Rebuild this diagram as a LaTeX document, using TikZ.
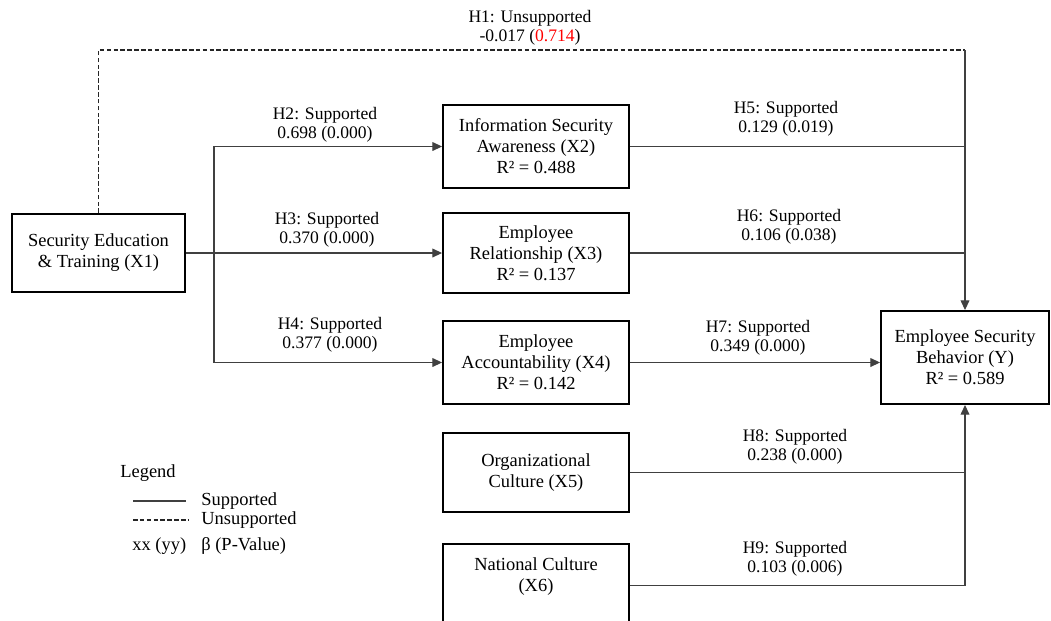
\documentclass[tikz,border=0pt]{standalone}
\usepackage{fontspec}
\setmainfont{Liberation Serif}
\usepackage{xcolor}
\usetikzlibrary{arrows.meta, positioning}

\begin{document}
\begin{tikzpicture}[
        x=0.02cm, y=-0.02cm,
        block/.style={rectangle, draw, line width=1.1pt, align=center, font=\rmfamily\fontsize{10.5}{12}\selectfont, inner sep=2pt},
        cause_block/.style={block, minimum width=3.72cm, minimum height=1.66cm},
        effect_block/.style={block, minimum width=3.36cm, minimum height=1.86cm},
        path_line/.style={draw=black!75, line width=0.6pt},
        path_arrow/.style={path_line, -{Triangle[length=5.5pt, width=5pt]}},
        dash_line/.style={draw=black!85, line width=1pt, dash pattern=on 2.6pt off 1.3pt},
        hyp/.style={align=center, font=\rmfamily\fontsize{10}{11}\selectfont, inner sep=0pt},
        legend_text/.style={anchor=west, font=\rmfamily\fontsize{10.5}{12}\selectfont, inner sep=0pt}
    ]
    \useasboundingbox (0,0) rectangle (1051,620);

    % constructs
    \node[block, minimum width=3.46cm, minimum height=1.56cm] (x1) at (98.5,253) {Security Education\\\& Training (X1)};
    \node[cause_block] (x2) at (536,146.5) {Information Security\\Awareness (X2)\\R² = 0.488};
    \node[cause_block, minimum height=1.6cm] (x3) at (536,253) {Employee\\Relationship (X3)\\R² = 0.137};
    \node[cause_block] (x4) at (536,362.5) {Employee\\Accountability (X4)\\R² = 0.142};
    \node[cause_block, minimum height=1.58cm] (x5) at (536,472.5) {Organizational\\Culture (X5)};
    \node[cause_block] (x6) at (536,585.5) {National Culture\\(X6)\\~};
    \node[effect_block] (y) at (965,357.5) {Employee Security\\Behavior (Y)\\R² = 0.589};

    % paths
    \coordinate (split) at (214,253);
    \coordinate (h1corner) at (965,50);
    \draw[dash_line] (x1.north) |- (h1corner);
    \draw[path_arrow] (h1corner) -- (y.north);
    \draw[path_arrow] (x1.east) -- (x3.west);
    \draw[path_arrow] (split) |- (x2.west);
    \draw[path_arrow] (split) |- (x4.west);
    \draw[path_line] (x2.east) -- (x2.east -| y.north);
    \draw[path_line] (x3.east) -- (x3.east -| y.north);
    \draw[path_arrow] (x4.east) -- (x4.east -| y.west);
    \draw[path_line] (x5.east) -- (x5.east -| y.south);
    \draw[path_arrow] (x6.east) -| (y.south);

    % hypothesis labels
    \node[hyp] (h1) at (530,27.5) {H1: Unsupported\\-0.017 ({\color{red}0.714})};
    \node[hyp] (h2) at (325,124.5) {H2: Supported\\0.698 (0.000)};
    \node[hyp] (h3) at (327,229.5) {H3: Supported\\0.370 (0.000)};
    \node[hyp] (h4) at (330,334.5) {H4: Supported\\0.377 (0.000)};
    \node[hyp] (h5) at (786,118.5) {H5: Supported\\0.129 (0.019)};
    \node[hyp] (h6) at (789,226.5) {H6: Supported\\0.106 (0.038)};
    \node[hyp] (h7) at (758,337.5) {H7: Supported\\0.349 (0.000)};
    \node[hyp] (h8) at (795,446.5) {H8: Supported\\0.238 (0.000)};
    \node[hyp] (h9) at (795,559) {H9: Supported\\0.103 (0.006)};

    % legend
    \node[legend_text] (legend) at (120,473) {Legend};
    \coordinate (sup_a) at (133,501);
    \coordinate (sup_b) at (186,501);
    \coordinate (uns_a) at (133,520);
    \coordinate (uns_b) at (188,520);
    \draw[path_line] (sup_a) -- (sup_b);
    \draw[dash_line, line width=0.8pt] (uns_a) -- (uns_b);
    \node[legend_text] (sup_txt) at (201,501) {Supported};
    \node[legend_text] (uns_txt) at (201,520) {Unsupported};
    \node[legend_text] (xx_txt) at (132,546) {xx (yy)};
    \node[legend_text] (beta_txt) at (201,546) {β (P-Value)};
\end{tikzpicture}
\end{document}
